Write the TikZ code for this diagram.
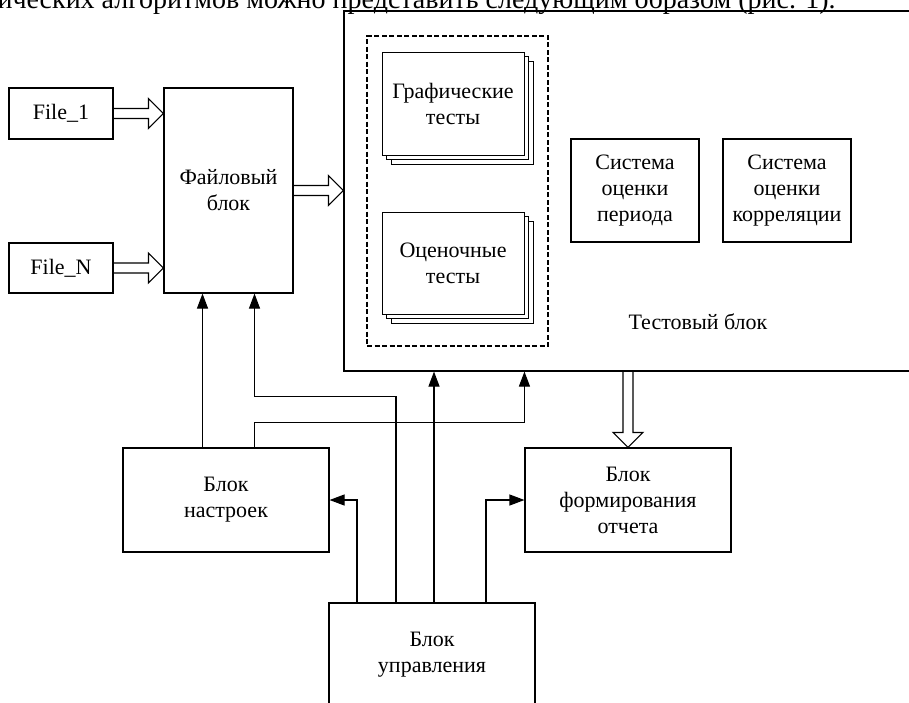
\documentclass[tikz,border=0pt]{standalone}
\usepackage{fontspec}
\setmainfont{Liberation Serif}
\usetikzlibrary{arrows.meta, calc, shadows}
\tikzstyle{block}=[rectangle, draw, line width=1.1pt, align=center, inner sep=0pt, minimum width=206pt, minimum height=104pt]
\tikzstyle{stack}=[rectangle, draw, fill=white, line width=1pt, align=center, minimum width=142pt, double copy shadow={shadow xshift=4.5pt, shadow yshift=-4.5pt, draw, fill=white, line width=1pt}]
\tikzstyle{frame}=[rectangle, draw, line width=1.5pt, dash pattern=on 5pt off 2.5pt]
\tikzstyle{arr}=[-{Triangle[length=15pt, width=11pt]}]
\tikzset{hollow/.style={to path={
    ($(\tikztostart)!5pt!90:(\tikztotarget)$)
    -- ($($(\tikztotarget)!15pt!(\tikztostart)$)!5pt!90:(\tikztotarget)$)
    -- ($($(\tikztotarget)!15pt!(\tikztostart)$)!15pt!90:(\tikztotarget)$)
    -- (\tikztotarget)
    -- ($($(\tikztotarget)!15pt!(\tikztostart)$)!15pt!-90:(\tikztotarget)$)
    -- ($($(\tikztotarget)!15pt!(\tikztostart)$)!5pt!-90:(\tikztotarget)$)
    -- ($(\tikztostart)!5pt!-90:(\tikztotarget)$)
}}}

\begin{document}
\begin{tikzpicture}[x=1pt, y=-1pt, line width=1.1pt, font=\fontsize{22}{26}\selectfont]
    \useasboundingbox (0,0) rectangle (909,702);
    \clip (0,0) rectangle (909,702);
    \node[anchor=base west, inner sep=0pt, font=\fontsize{28}{32}\selectfont] (intro) at (-3, 8)
        {ических алгоритмов можно представить следующим образом (рис. 1).};
    % files
    \node[block, minimum width=104pt, minimum height=51pt] (f1) at (61, 113.5) {File\_1};
    \node[block, minimum width=104pt, minimum height=50pt] (fN) at (61, 268) {File\_N};
    \node[block, minimum width=129pt, minimum height=205pt] (file) at (228.5, 190.5) {Файловый\\блок};
    % test block
    \node[block, minimum width=616pt, minimum height=360pt] (tb) at (652, 191) {};
    \node[frame, minimum width=181pt, minimum height=310pt] (grp) at (457.5, 191) {};
    \node[stack, minimum height=103pt] (gr) at (453, 103.5) {Графические\\тесты};
    \node[stack, minimum height=102pt] (ev) at (453, 263) {Оценочные\\тесты};
    \node[block, minimum width=128pt, minimum height=103pt] (per) at (635, 190.5) {Система\\оценки\\периода};
    \node[block, minimum width=128pt, minimum height=103pt] (cor) at (787, 190.5) {Система\\оценки\\корреляции};
    \node (tlbl) at (698, 322) {Тестовый блок};
    % lower blocks
    \node[block] (set) at (226, 500) {Блок\\настроек};
    \node[block] (rep) at (628, 500) {Блок\\формирования\\отчета};
    \node[block] (ctl) at (432, 655) {Блок\\управления};

    \coordinate (p1) at ([xshift=-26pt]file.south);
    \coordinate (p2) at ([xshift=26pt]file.south);
    \coordinate (c1) at ([xshift=-75pt]ctl.north);
    \coordinate (c2) at ([xshift=-36pt]ctl.north);
    \coordinate (c3) at ([xshift=2pt]ctl.north);
    \coordinate (c4) at ([xshift=54pt]ctl.north);
    \coordinate (t2) at (rep.west |- tb.south);

    \draw[arr] (set.north -| p1) -- (p1);
    \draw[arr] (c2) -- ++(0,-206) -| (p2);
    \draw[arr] (set.north -| p2) -- ++(0,-25) -| (t2);
    \draw[arr] (c3) -- (c3 |- tb.south);
    \draw[arr] (c1) |- (set.east);
    \draw[arr] (c4) |- (rep.west);
    \draw (f1.east) to[hollow] (f1 -| file.west);
    \draw (fN.east) to[hollow] (fN -| file.west);
    \draw (file.east) to[hollow] (file -| tb.west);
    \draw (tb.south -| rep.north) to[hollow] (rep.north);
\end{tikzpicture}
\end{document}
